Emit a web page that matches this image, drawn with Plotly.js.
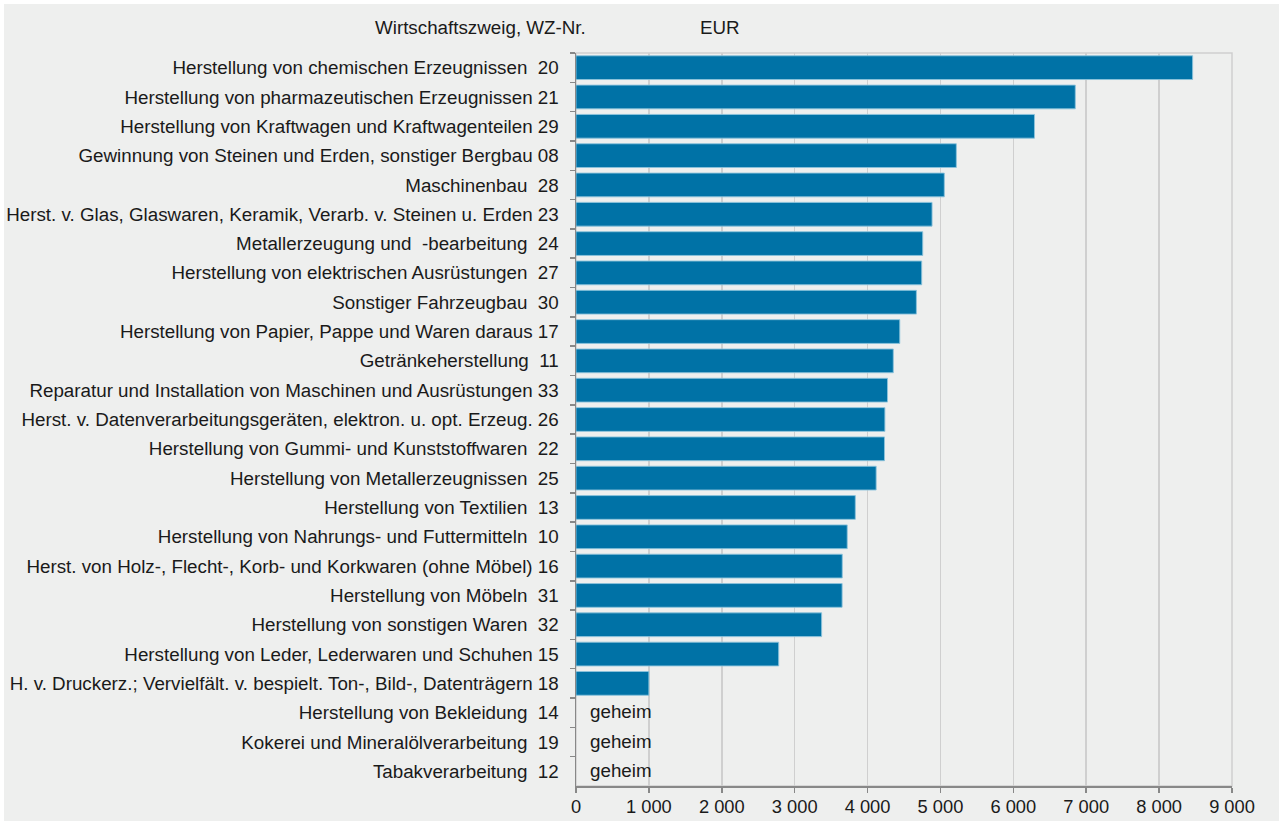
<!DOCTYPE html>
<html>
<head>
<meta charset="utf-8">
<script src="https://cdn.plot.ly/plotly-3.0.1.min.js"></script>
<style>
html,body{margin:0;padding:0;background:#ffffff;}
#chart{position:absolute;left:4px;top:4px;width:1275px;height:817px;}
</style>
</head>
<body>
<div id="chart"></div>
<script>
const categories = [
  "Herstellung von chemischen Erzeugnissen  20",
  "Herstellung von pharmazeutischen Erzeugnissen 21",
  "Herstellung von Kraftwagen und Kraftwagenteilen 29",
  "Gewinnung von Steinen und Erden, sonstiger Bergbau 08",
  "Maschinenbau  28",
  "Herst. v. Glas, Glaswaren, Keramik, Verarb. v. Steinen u. Erden 23",
  "Metallerzeugung und  -bearbeitung  24",
  "Herstellung von elektrischen Ausrüstungen  27",
  "Sonstiger Fahrzeugbau  30",
  "Herstellung von Papier, Pappe und Waren daraus 17",
  "Getränkeherstellung  11",
  "Reparatur und Installation von Maschinen und Ausrüstungen 33",
  "Herst. v. Datenverarbeitungsgeräten, elektron. u. opt. Erzeug. 26",
  "Herstellung von Gummi- und Kunststoffwaren  22",
  "Herstellung von Metallerzeugnissen  25",
  "Herstellung von Textilien  13",
  "Herstellung von Nahrungs- und Futtermitteln  10",
  "Herst. von Holz-, Flecht-, Korb- und Korkwaren (ohne Möbel) 16",
  "Herstellung von Möbeln  31",
  "Herstellung von sonstigen Waren  32",
  "Herstellung von Leder, Lederwaren und Schuhen 15",
  "H. v. Druckerz.; Vervielfält. v. bespielt. Ton-, Bild-, Datenträgern 18",
  "Herstellung von Bekleidung  14",
  "Kokerei und Mineralölverarbeitung  19",
  "Tabakverarbeitung  12"
];
const values = [8460, 6850, 6290, 5218, 5053, 4885, 4757, 4743, 4670, 4442, 4353, 4274, 4238, 4232, 4118, 3832, 3721, 3653, 3651, 3370, 2781, 1000, null, null, null];
const secretLabel = "geheim";
const xTicks = [0, 1000, 2000, 3000, 4000, 5000, 6000, 7000, 8000, 9000];
const headerCategory = "Wirtschaftszweig, WZ-Nr.";
const headerUnit = "EUR";

// keep double spaces visible in SVG text
const labels = categories.map(c => c.replace(/  /g, " \u00a0"));

const FONT = "Liberation Sans, Arial, sans-serif";
const FS = 18.8;
const annotations = [];
labels.forEach((c, i) => {
  if (values[i] === null) {
    annotations.push({
      x: 0, y: c, xref: 'x', yref: 'y', text: secretLabel, showarrow: false,
      xanchor: 'left', xshift: 12, yshift: 1, font: {family: FONT, size: FS, color: '#1a1a1a'}
    });
  }
});
annotations.push({
  xref: 'paper', yref: 'paper', x: (588 - 576) / 656, y: (786 - 28) / 733,
  text: headerCategory, showarrow: false, xanchor: 'right', yanchor: 'middle',
  font: {family: FONT, size: FS, color: '#1a1a1a'}
});
annotations.push({
  xref: 'paper', yref: 'paper', x: (698 - 576) / 656, y: (786 - 28) / 733,
  text: headerUnit, showarrow: false, xanchor: 'left', yanchor: 'middle',
  font: {family: FONT, size: FS, color: '#1a1a1a'}
});

const trace = {
  type: 'bar',
  orientation: 'h',
  y: labels,
  x: values,
  marker: {color: '#0072a6', line: {color: 'rgba(140,195,220,0.9)', width: 1}},
  hoverinfo: 'x+y'
};

const layout = {
  width: 1275, height: 817,
  paper_bgcolor: '#eeefee',
  plot_bgcolor: '#eeefee',
  margin: {l: 572, r: 47, t: 49, b: 35, pad: 0},
  bargap: 0.19,
  showlegend: false,
  separators: ', ',
  font: {family: FONT, size: FS, color: '#1a1a1a'},
  xaxis: {
    range: [0, 9000],
    tickvals: xTicks,
    tickformat: ',d',
    showgrid: true,
    gridcolor: '#cfcfcf',
    gridwidth: 1.5,
    zeroline: false,
    showline: true,
    linecolor: '#888888',
    linewidth: 1.5,
    ticks: 'outside',
    ticklen: 5,
    tickcolor: '#888888',
    tickwidth: 1.5,
    ticklabelstandoff: -1,
    tickfont: {family: FONT, size: 18.3, color: '#1a1a1a'},
    fixedrange: true
  },
  yaxis: {
    type: 'category',
    autorange: 'reversed',
    showgrid: false,
    zeroline: false,
    showline: true,
    linecolor: '#888888',
    linewidth: 1.5,
    ticks: 'outside',
    tickson: 'boundaries',
    ticklen: 5,
    tickcolor: '#888888',
    tickwidth: 1.5,
    ticklabelstandoff: 12,
    tickfont: {family: FONT, size: FS, color: '#1a1a1a'},
    fixedrange: true
  },
  shapes: [{
    type: 'rect', xref: 'paper', yref: 'paper', x0: 0, x1: 1, y0: 0, y1: 1,
    line: {color: '#cfcfcf', width: 1.5}, fillcolor: 'rgba(0,0,0,0)', layer: 'below'
  }],
  annotations: annotations
};

Plotly.newPlot('chart', [trace], layout, {displayModeBar: false, staticPlot: true});
</script>
</body>
</html>
